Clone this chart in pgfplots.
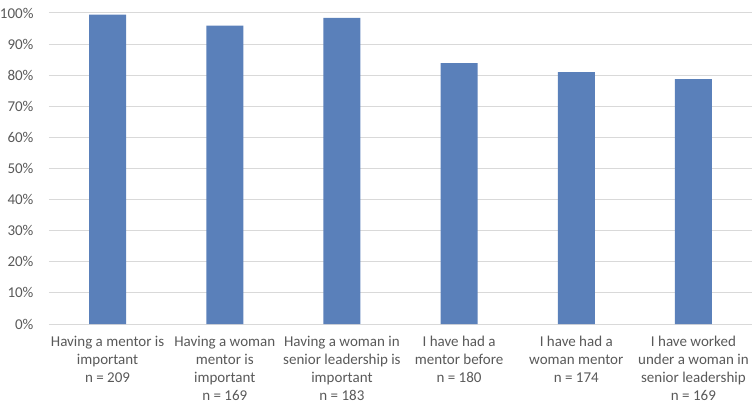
\documentclass[border=0pt]{standalone}
\usepackage{pgfplots}
\pgfplotsset{compat=1.18}
\usepackage{fontspec}
\setmainfont{Carlito}
\definecolor{barblue}{HTML}{5A80BA}
\definecolor{gridgray}{HTML}{D9D9D9}
\definecolor{txtgray}{HTML}{595959}
\begin{document}
\begin{tikzpicture}
\begin{axis}[
  scale only axis, width=703pt, height=311pt,
  xmin=-0.5, xmax=5.5, ymin=0, ymax=100,
  ybar, bar width=37pt,
  ytick={0,10,...,100},
  yticklabel={\pgfmathprintnumber{\tick}\%},
  /pgf/number format/assume math mode=true,
  xtick=data,
  xticklabels={{Having a mentor is\\important\\n = 209},
               {Having a woman\\mentor is\\important\\n = 169},
               {Having a woman in\\senior leadership is\\important\\n = 183},
               {I have had a\\mentor before\\n = 180},
               {I have had a\\woman mentor\\n = 174},
               {I have worked\\under a woman in\\senior leadership\\n = 169}},
  xticklabel style={align=center, font=\fontsize{15}{18}\selectfont, text=txtgray, yshift=-9pt},
  yticklabel style={font=\fontsize{15}{18}\selectfont, text=txtgray, xshift=-12pt},
  ymajorgrids, major grid style={draw=gridgray, line width=1pt},
  axis line style={draw=none}, major tick length=0pt,
  tick style={draw=none},
  clip=false,
]
\addplot[fill=barblue, draw=none] coordinates {(0,99.5) (1,95.9) (2,98.4) (3,83.9) (4,81.0) (5,78.7)};
\end{axis}
\pgfresetboundingbox
\path ([xshift=-49pt,yshift=-83pt]current axis.south west) rectangle ([xshift=1pt,yshift=13pt]current axis.north east);
\end{tikzpicture}
\end{document}
